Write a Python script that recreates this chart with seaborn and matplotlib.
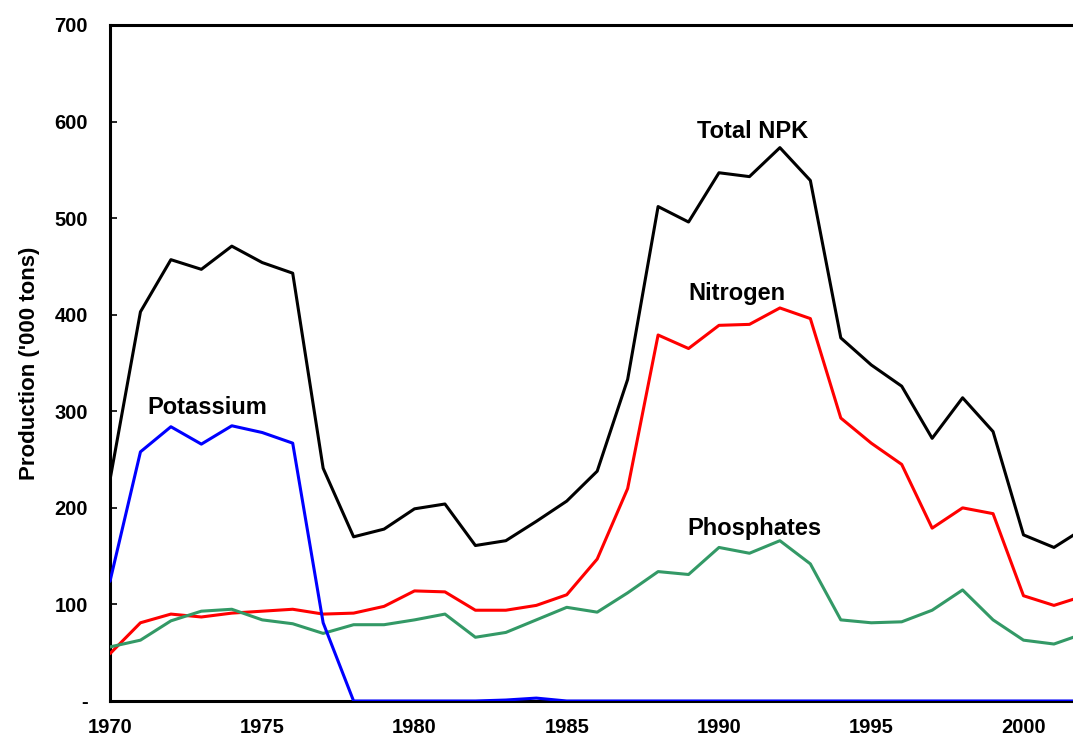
import numpy as np
import pandas as pd
import seaborn as sns
import matplotlib.pyplot as plt
from matplotlib.ticker import MultipleLocator

# production in '000 tons
years = list(range(1970, 2003))
total_npk = [229, 403, 457, 447, 471, 454, 443, 241, 170, 178, 199, 204, 161, 166, 186, 207, 238,
             333, 512, 496, 547, 543, 573, 539, 376, 348, 326, 272, 314, 279, 172, 159, 179]
nitrogen = [49, 81, 90, 87, 91, 93, 95, 90, 91, 98, 114, 113, 94, 94, 99, 110, 147,
            220, 379, 365, 389, 390, 407, 396, 293, 267, 245, 179, 200, 194, 109, 99, 109]
phosphates = [56, 63, 83, 93, 95, 84, 80, 70, 79, 79, 84, 90, 66, 71, 84, 97, 92,
              112, 134, 131, 159, 153, 166, 142, 84, 81, 82, 94, 115, 84, 63, 59, 70]
potassium = [124, 258, 284, 266, 285, 278, 267, 81, 0, 0, 0, 0, 0, 1, 3, 0, 0,
             0, 0, 0, 0, 0, 0, 0, 0, 0, 0, 0, 0, 0, 0, 0, 0]

series_names = ["Total NPK", "Nitrogen", "Phosphates", "Potassium"]
series_colors = ["#000000", "#FF0000", "#339966", "#0000FF"]

df = pd.DataFrame({"Year": years, "Total NPK": total_npk, "Nitrogen": nitrogen,
                   "Phosphates": phosphates, "Potassium": potassium})
long_df = df.melt(id_vars="Year", var_name="Series", value_name="Production")

sns.set_style("white")
plt.rcParams['font.family'] = ['Liberation Sans', 'DejaVu Sans']
plt.rcParams['font.weight'] = 'bold'

fig = plt.figure(figsize=(10.73, 7.40), dpi=100)
ax = fig.add_axes([110 / 1073, 39 / 740, 963 / 1073, 676 / 740])

sns.lineplot(data=long_df, x="Year", y="Production", hue="Series",
             hue_order=series_names, palette=dict(zip(series_names, series_colors)),
             linewidth=2.2, legend=False, ax=ax)
for line in ax.lines:
    line.set_zorder(3)

ax.set_xlim(1970, 1970 + 963 / 30.45)
ax.set_ylim(0, 700)

# labels every 5 years, small tick marks every 2 years
ax.set_xticks(range(1970, 2001, 5))
ax.set_xticklabels([str(y) for y in range(1970, 2001, 5)])
ax.xaxis.set_minor_locator(MultipleLocator(2))
ax.tick_params(axis="x", which="major", length=0, pad=12.5, labelsize=14.5, labelcolor="black")
ax.tick_params(axis="x", which="minor", direction="in", length=5, width=1.2, color="black")

ax.set_yticks(range(0, 701, 100))
ax.set_yticklabels(["-"] + [str(v) for v in range(100, 701, 100)])
ax.tick_params(axis="y", direction="in", length=5, width=1.2, pad=16, labelsize=14.5,
               left=True, color="black", labelcolor="black")

ax.set_xlabel("")
ax.set_ylabel("Production ('000 tons)", fontsize=16, fontweight="bold", labelpad=10,
              color="black")

for side in ["left", "bottom", "top"]:
    ax.spines[side].set_visible(True)
    ax.spines[side].set_color("black")
    ax.spines[side].set_linewidth(2.2)
ax.spines["right"].set_visible(False)

label_pos = {"Total NPK": (1991.1, 590), "Nitrogen": (1990.6, 422),
             "Phosphates": (1991.15, 179), "Potassium": (1973.2, 304)}
for name, (x, y) in label_pos.items():
    ax.text(x, y, name, ha="center", va="center", fontsize=17, fontweight="bold", color="black")

plt.savefig("out.png", dpi=100)
plt.close()
